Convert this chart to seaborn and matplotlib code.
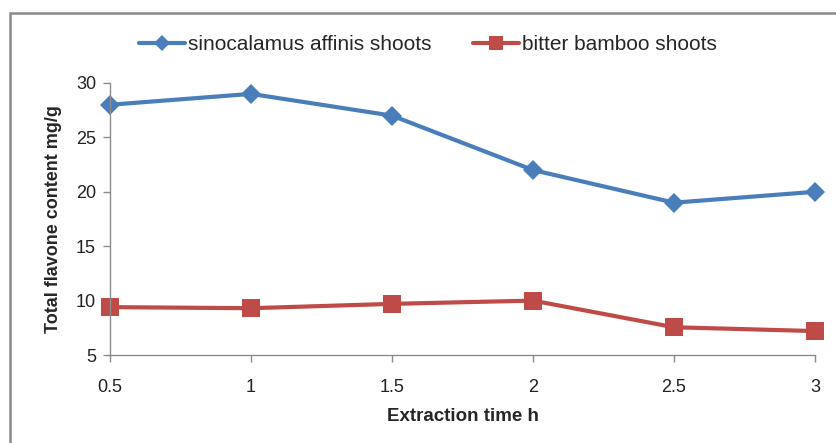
import matplotlib
matplotlib.use("Agg")
import matplotlib.pyplot as plt
import seaborn as sns
import pandas as pd
from matplotlib.patches import Rectangle
from matplotlib.lines import Line2D

times = [0.5, 1, 1.5, 2, 2.5, 3]
sinocalamus = [28, 29, 27, 22, 19, 20]
bitter = [9.4, 9.3, 9.7, 10.0, 7.55, 7.2]
series_names = ["sinocalamus affinis shoots", "bitter bamboo shoots"]
x_ticks = [0.5, 1, 1.5, 2, 2.5, 3]
x_tick_labels = ["0.5", "1", "1.5", "2", "2.5", "3"]
y_ticks = [5, 10, 15, 20, 25, 30]

sns.set_style("white")
plt.rcParams['font.family'] = ['Liberation Sans', 'DejaVu Sans']

df = pd.DataFrame({
    "time": times * 2,
    "value": sinocalamus + bitter,
    "series": [series_names[0]] * len(times) + [series_names[1]] * len(times),
})

colors = {series_names[0]: "#4A7EBB", series_names[1]: "#BE4B48"}
markers = {series_names[0]: "D", series_names[1]: "s"}
msizes = {series_names[0]: 10.0, series_names[1]: 12.5}

fig = plt.figure(figsize=(8.36, 4.43), dpi=100)
ax = fig.add_axes([110 / 836, 1 - 355 / 443, (815 - 110) / 836, (355 - 83) / 443])

for name in series_names:
    sub = df[df["series"] == name]
    sns.lineplot(data=sub, x="time", y="value", color=colors[name],
                 marker=markers[name], linewidth=3.0, markersize=msizes[name],
                 markeredgewidth=0, ax=ax, legend=False, clip_on=False)

ax.set_xlim(0.5, 3)
ax.set_ylim(5, 30)
ax.set_xticks(x_ticks)
ax.set_xticklabels(x_tick_labels)
ax.set_yticks(y_ticks)
for s in ["top", "right"]:
    ax.spines[s].set_visible(False)
for s in ["left", "bottom"]:
    ax.spines[s].set_color("#8C8C8C")
    ax.spines[s].set_linewidth(1.0)
ax.tick_params(axis="both", direction="out", length=5, width=1, color="#8C8C8C",
               labelsize=13, labelcolor="#222222", left=True, bottom=True)
ax.tick_params(axis="x", pad=12)
ax.tick_params(axis="y", pad=5)
ax.set_xlabel("Extraction time h", fontsize=13.5, fontweight="bold", labelpad=9)
ax.set_ylabel("Total flavone content mg/g", fontsize=13, fontweight="bold", labelpad=10)

# outer chart border
fig.patches.append(Rectangle((10 / 836, -0.05), 1.0, 1 - 13 / 443 + 0.05,
                             transform=fig.transFigure, fill=False,
                             edgecolor="#8A8A8A", linewidth=1.8))

handles = [Line2D([0], [0], color=colors[n], marker=markers[n], linewidth=3.0,
                  markersize=msizes[n] * 0.85, markeredgewidth=0) for n in series_names]
fig.legend(handles, series_names, loc="center", bbox_to_anchor=(428 / 836, 1 - 45 / 443),
           ncol=2, frameon=False, fontsize=15, handlelength=2.2, handletextpad=0.15,
           columnspacing=2.0)

fig.savefig("out.png", dpi=100)
